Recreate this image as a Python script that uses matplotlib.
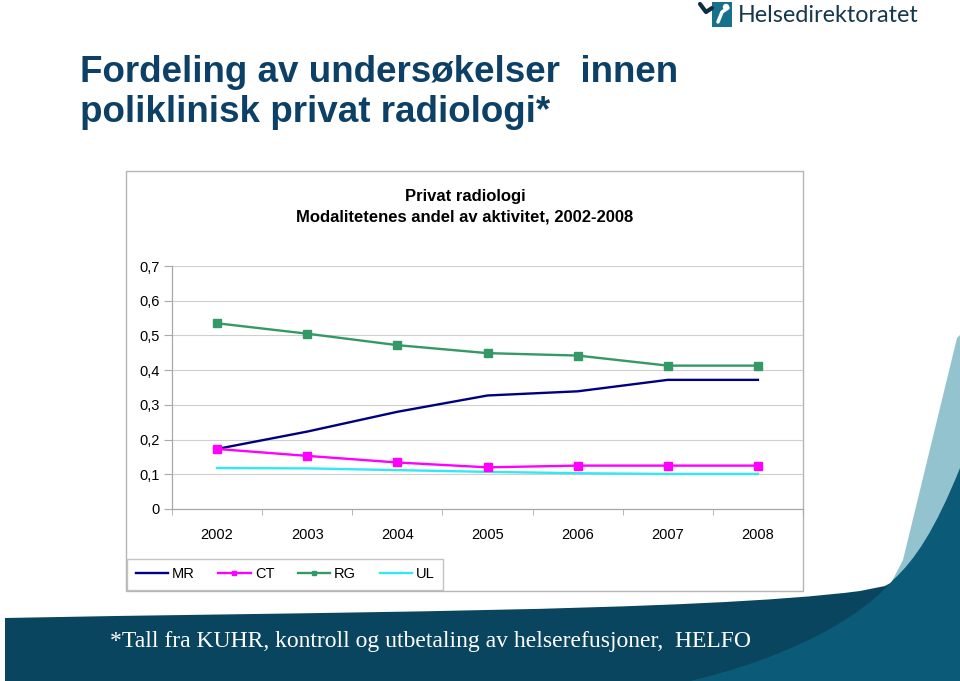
import matplotlib
matplotlib.use("Agg")
import matplotlib.pyplot as plt
from matplotlib.patches import Rectangle, PathPatch
from matplotlib.path import Path
from matplotlib.ticker import FixedLocator, FuncFormatter

plt.rcParams['font.family'] = ['Liberation Sans', 'DejaVu Sans']

years = ["2002", "2003", "2004", "2005", "2006", "2007", "2008"]
mr = [0.173, 0.223, 0.280, 0.327, 0.339, 0.372, 0.372]
ct = [0.173, 0.153, 0.134, 0.120, 0.125, 0.125, 0.125]
rg = [0.535, 0.505, 0.472, 0.449, 0.442, 0.413, 0.413]
ul = [0.118, 0.117, 0.112, 0.107, 0.103, 0.101, 0.101]
y_ticks = [0, 0.1, 0.2, 0.3, 0.4, 0.5, 0.6, 0.7]

W, H = 960, 681
fig = plt.figure(figsize=(W / 100, H / 100), dpi=100)
fig.patch.set_facecolor('white')

# ---- background decoration (pixel coordinates) ----
bg = fig.add_axes([0, 0, 1, 1], zorder=0)
bg.set_xlim(0, W)
bg.set_ylim(H, 0)
bg.axis('off')

def shape(verts, codes, color, z=0):
    bg.add_patch(PathPatch(Path(verts, codes), facecolor=color, edgecolor='none', zorder=z))

M, L, C, Z = Path.MOVETO, Path.LINETO, Path.CURVE4, Path.CLOSEPOLY
# light right sliver
shape([(960, 335), (957, 338), (903, 560), (890, 585), (960, 600), (960, 335)],
      [M, L, L, L, L, Z], '#93c3ce', 1)
# dark bottom band
shape([(5, 618), (300, 612), (700, 612), (860, 591), (885, 586), (905, 575), (940, 560),
       (960, 560), (960, 681), (5, 681), (5, 618)],
      [M, C, C, C, L, L, L, L, L, L, Z], '#0a4560', 2)
# medium teal region on the right
shape([(960, 468), (935, 530), (915, 560), (893, 580), (850, 630), (760, 665), (690, 681),
       (960, 681), (960, 468)],
      [M, C, C, C, C, C, C, L, Z], '#0b5a77', 3)

# logo
bg.add_patch(Rectangle((712, 2), 20, 25, facecolor='#17708c', edgecolor='none', zorder=2))
bg.plot([700, 706, 712], [4, 12, 8], color='#0c2f40', lw=3, solid_capstyle='round', zorder=3)
bg.plot([718, 722, 728], [22, 12, 8], color='white', lw=2.5, solid_capstyle='round', zorder=3)
bg.add_patch(plt.Circle((726, 7), 2.5, color='white', zorder=3))
bg.text(738, 15, "Helsedirektoratet", fontsize=16.8, family=['Lato', 'DejaVu Sans'],
        color='#17384a', va='center', ha='left', zorder=3)

# slide title
bg.text(80, 72, "Fordeling av undersøkelser  innen", fontsize=26.5, fontweight='bold',
        color='#0c4066', va='center', ha='left', zorder=3)
bg.text(80, 113, "poliklinisk privat radiologi*", fontsize=26.5, fontweight='bold',
        color='#0c4066', va='center', ha='left', zorder=3)

# footer
bg.text(431, 642, "*Tall fra KUHR, kontroll og utbetaling av helserefusjoner,  HELFO",
        fontsize=17, family=['Liberation Serif', 'DejaVu Serif'], color='white',
        va='center', ha='center', zorder=4)

# chart frame
bg.add_patch(Rectangle((126, 171), 677, 420, facecolor='white', edgecolor='#b5b5b5',
                       lw=1, zorder=5))
bg.text(465, 196, "Privat radiologi", fontsize=12, fontweight='bold', ha='center',
        va='center', zorder=6)
bg.text(465, 217, "Modalitetenes andel av aktivitet, 2002-2008", fontsize=12,
        fontweight='bold', ha='center', va='center', zorder=6)

# ---- plot axes ----
ax = fig.add_axes([172 / W, (H - 509) / H, (803 - 172) / W, (509 - 266) / H], zorder=10)
ax.patch.set_alpha(0)
x = list(range(len(years)))
ax.plot(x, mr, color='#000080', lw=1.7, label='MR', zorder=3)
ax.plot(x, ct, color='#ff00ff', lw=1.7, marker='s', markersize=5.5, label='CT', zorder=3)
ax.plot(x, rg, color='#339966', lw=1.7, marker='s', markersize=5.5, label='RG', zorder=3)
ax.plot(x, ul, color='#33e8f0', lw=1.7, label='UL', zorder=2)

ax.set_xlim(-0.5, 6.5)
ax.set_ylim(0, 0.7)
ax.set_yticks(y_ticks)
ax.yaxis.set_major_formatter(FuncFormatter(lambda v, p: ('%g' % round(v, 1)).replace('.', ',')))
ax.set_xticks(x)
ax.set_xticklabels(years)
ax.xaxis.set_minor_locator(FixedLocator([i - 0.5 for i in range(len(years) + 1)]))
ax.tick_params(axis='x', which='major', length=0, pad=14, labelsize=10.5)
ax.tick_params(axis='x', which='minor', length=4, color='#a8a8a8', direction='out')
ax.tick_params(axis='y', length=6, color='#a8a8a8', pad=3, labelsize=10.5)
ax.grid(axis='y', color='#cfcfcf', lw=0.8)
ax.set_axisbelow(True)
for s in ['top', 'right']:
    ax.spines[s].set_visible(False)
for s in ['left', 'bottom']:
    ax.spines[s].set_color('#a8a8a8')
    ax.spines[s].set_linewidth(0.9)

leg = fig.legend(loc='lower left', bbox_to_anchor=(127 / W, (H - 590) / H), ncol=4,
                 frameon=True, fancybox=False, edgecolor='#b5b5b5', fontsize=10.5,
                 handlelength=2.2, handletextpad=0.3, columnspacing=1.6,
                 borderpad=0.6, borderaxespad=0, markerscale=0.6)
leg.get_frame().set_linewidth(1)
leg.set_zorder(20)

fig.savefig('out.png', dpi=100)
